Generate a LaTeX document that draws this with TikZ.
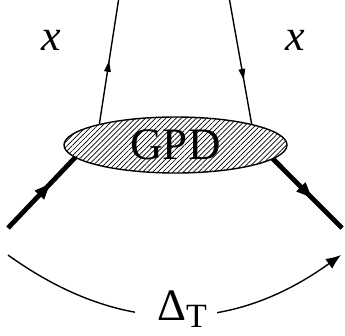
\documentclass[tikz,border=0pt]{standalone}
\usepackage{fontspec}
\setmainfont{Liberation Serif}
\usetikzlibrary{arrows.meta,patterns.meta,shapes.geometric,decorations.markings}
\begin{document}
\begin{tikzpicture}[x=1pt,y=-1pt,
  thinline/.style={line width=1.4pt},
  thickline/.style={line width=4.8pt},
  midarrow/.style={postaction={decorate},decoration={markings,
     mark=at position #1 with {\arrow{Triangle[length=11pt,width=6.5pt]}}}},
  bigarrow/.style={postaction={decorate},decoration={markings,
     mark=at position #1 with {\arrow[line width=0.5pt]{Triangle[length=15pt,width=13pt]}}}},
  lbl/.style={font=\fontsize{44}{50}\selectfont, inner sep=0pt}]
\useasboundingbox (0,0) rectangle (345,335);
% GPD blob
\node[ellipse, draw, line width=1.4pt, minimum width=223pt, minimum height=56pt,
      inner sep=0pt, outer sep=0pt,
      pattern={Lines[angle=45,distance=3.6pt,line width=0.7pt]},
      font=\fontsize{45}{50}\selectfont] (gpd) at (175.5,145) {GPD};
% end points
\coordinate (tl) at (119,-3);
\coordinate (tr) at (229,-3);
\coordinate (bl) at (8,228);
\coordinate (br) at (342,228);
% thin quark lines
\draw[thinline, midarrow=0.5] (gpd.165.2) -- (tl);
\draw[thinline, midarrow=0.65] (tr) -- (gpd.15.7);
% thick hadron lines
\draw[thickline, bigarrow=0.62] (bl) -- (gpd.187.5);
\draw[thickline, bigarrow=0.56] (gpd.352.4) -- (br);
% labels
\node[lbl, font=\fontsize{44}{50}\selectfont\itshape] (xl) at (51,40) {x};
\node[lbl, font=\fontsize{44}{50}\selectfont\itshape] (xr) at (295,40) {x};
% momentum transfer arc
\coordinate (dl) at (8,255);
\coordinate (dr) at (341,255);
\draw[line width=1.4pt, -{Latex[length=15pt,width=12pt]}]
  (dl) .. controls (119,335) and (230,335) .. (dr);
\node[fill=white, inner xsep=0pt, inner ysep=2pt, anchor=base west,
      font=\fontsize{45}{50}\selectfont] (dt) at (135,320)
  {\hspace*{22pt}Δ\raisebox{-7pt}{\fontsize{34}{40}\selectfont T}\hspace*{10pt}};
\end{tikzpicture}
\end{document}
